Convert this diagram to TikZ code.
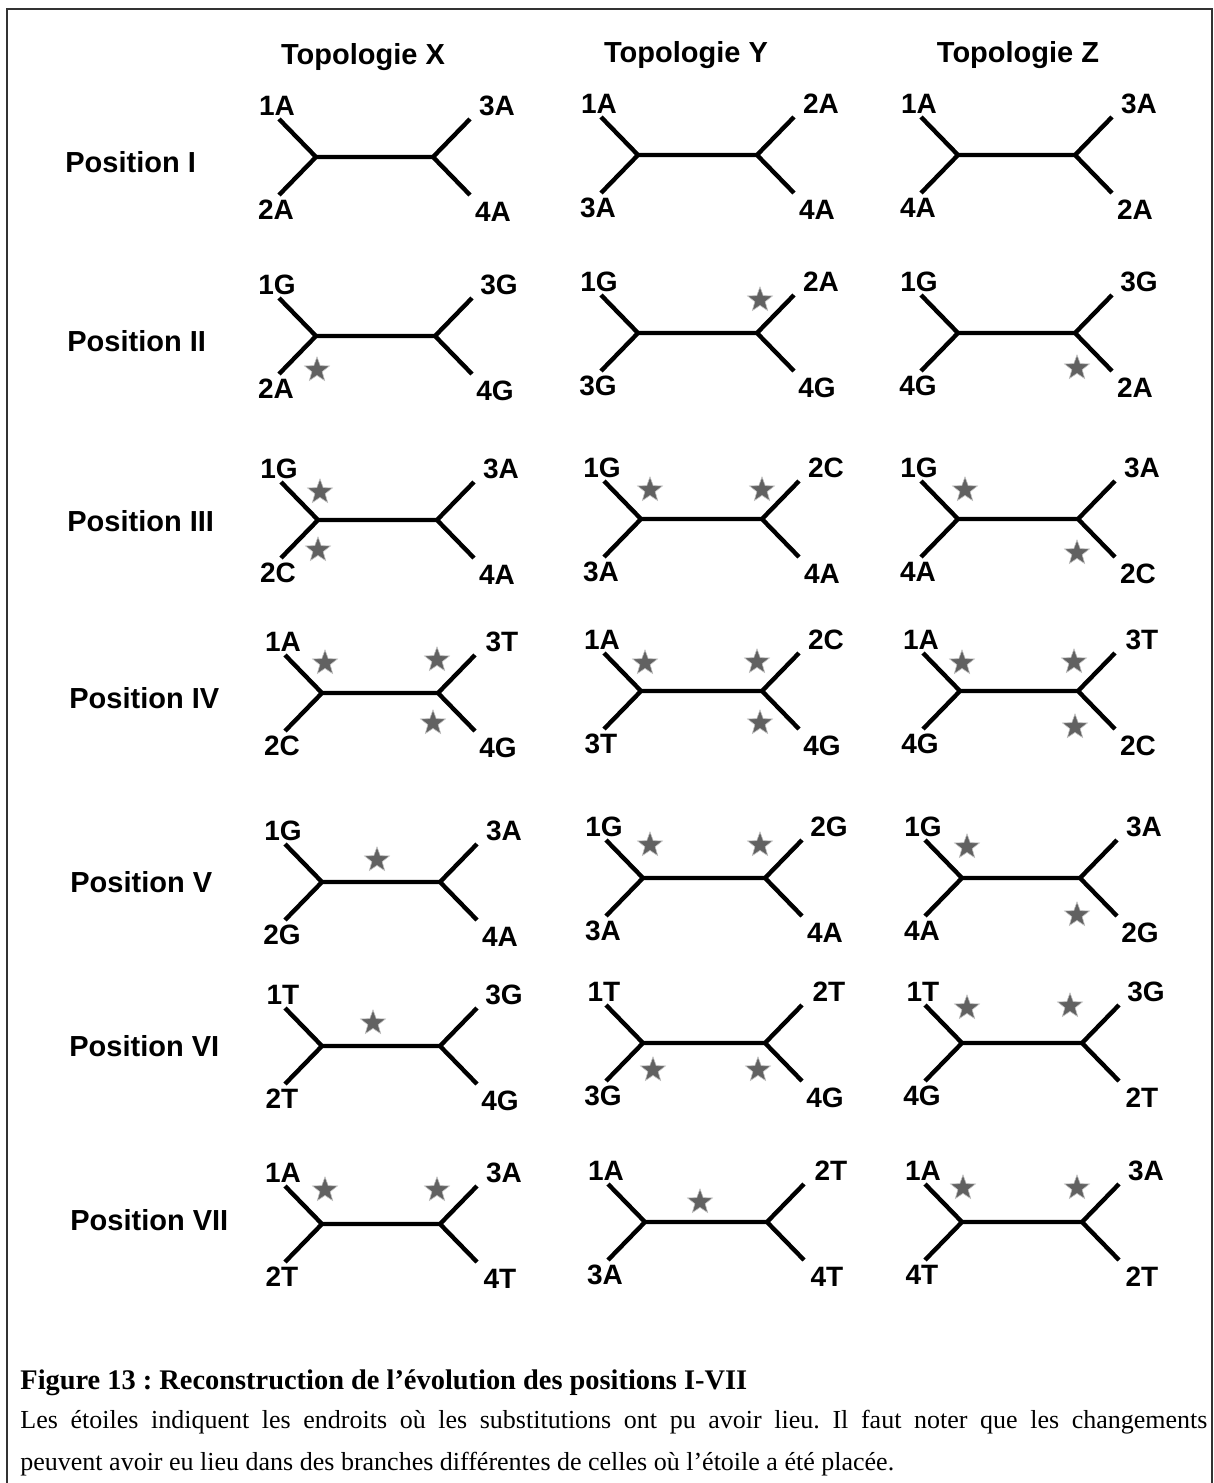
\documentclass[tikz,border=0pt]{standalone}
\usepackage{fontspec}
\setmainfont{Liberation Sans}
\newfontfamily\capfont{Liberation Serif}
\usetikzlibrary{shapes.geometric,calc}
\tikzset{
  br/.style={line width=2.2pt,line cap=butt,line join=miter},
  lab/.style={font=\fontsize{14}{14}\selectfont\bfseries,inner sep=0pt},
  hdr/.style={font=\fontsize{14.5}{14.5}\selectfont\bfseries,inner sep=0pt},
  rowlab/.style={font=\fontsize{14.5}{14.5}\selectfont\bfseries,inner sep=0pt,anchor=west},
  st/.style={star,star points=5,star point ratio=2.4,minimum size=13pt,inner sep=0pt,fill=black!62,draw=black!25,line width=0.3pt},
  frame/.style={line width=1pt,black!80}
}
\newcommand\mytree[8]{%
  \coordinate (#1l) at (#2,#4);
  \coordinate (#1r) at (#3,#4);
  \coordinate (#1a) at (#2-37,#4-38);
  \coordinate (#1b) at (#2-37,#4+38);
  \coordinate (#1c) at (#3+37,#4-38);
  \coordinate (#1d) at (#3+37,#4+38);
  \draw[br] (#1a) -- (#1l) -- (#1b) (#1l) -- (#1r) (#1c) -- (#1r) -- (#1d);
  \node[lab] (#1ul) at (#2-39,#4-51) {#5};
  \node[lab] (#1ll) at (#2-40,#4+53) {#6};
  \node[lab] (#1ur) at (#3+64,#4-51) {#7};
  \node[lab] (#1lr) at (#3+60,#4+55) {#8};
}
\begin{document}
\frenchspacing
\begin{tikzpicture}[x=0.5pt,y=-0.5pt]
\useasboundingbox (0,0) rectangle (1214,1483);
\fill[white] (0,0) rectangle (1214,1483);
% frame
\coordinate (f1) at (7,1483);
\coordinate (f2) at (7,9);
\coordinate (f3) at (1212,9);
\coordinate (f4) at (1212,1483);
\draw[frame] (f1) -- (f2) -- (f3) -- (f4);
% headers
\node[hdr] (hx) at (363,57) {Topologie X};
\node[hdr] (hy) at (686,55) {Topologie Y};
\node[hdr] (hz) at (1018,55) {Topologie Z};
% row labels
\node[rowlab] (p1) at (65,162) {Position I};
\node[rowlab] (p2) at (67,341) {Position II};
\node[rowlab] (p3) at (67,521) {Position III};
\node[rowlab] (p4) at (69,698) {Position IV};
\node[rowlab] (p5) at (70,882) {Position V};
\node[rowlab] (p6) at (69,1046) {Position VI};
\node[rowlab] (p7) at (70,1220) {Position VII};
% row I
\mytree{aX}{316}{433}{157}{1A}{2A}{3A}{4A}
\mytree{aY}{638}{757}{155}{1A}{3A}{2A}{4A}
\mytree{aZ}{958}{1075}{155}{1A}{4A}{3A}{2A}
% row II
\mytree{bX}{316}{435}{336}{1G}{2A}{3G}{4G}
\mytree{bY}{638}{757}{333}{1G}{3G}{2A}{4G}
\mytree{bZ}{958}{1075}{333}{1G}{4G}{3G}{2A}
% row III
\mytree{cX}{318}{437}{520}{1G}{2C}{3A}{4A}
\mytree{cY}{641}{762}{519}{1G}{3A}{2C}{4A}
\mytree{cZ}{958}{1078}{519}{1G}{4A}{3A}{2C}
% row IV
\mytree{dX}{322}{438}{693}{1A}{2C}{3T}{4G}
\mytree{dY}{641}{762}{691}{1A}{3T}{2C}{4G}
\mytree{dZ}{960}{1078}{691}{1A}{4G}{3T}{2C}
% row V
\mytree{eX}{322}{440}{882}{1G}{2G}{3A}{4A}
\mytree{eY}{643}{765}{878}{1G}{3A}{2G}{4A}
\mytree{eZ}{962}{1080}{878}{1G}{4A}{3A}{2G}
% row VI
\mytree{fX}{322}{440}{1046}{1T}{2T}{3G}{4G}
\mytree{fY}{643}{765}{1043}{1T}{3G}{2T}{4G}
\mytree{fZ}{962}{1082}{1043}{1T}{4G}{3G}{2T}
% row VII
\mytree{gX}{322}{440}{1224}{1A}{2T}{3A}{4T}
\mytree{gY}{645}{767}{1222}{1A}{3A}{2T}{4T}
\mytree{gZ}{962}{1082}{1222}{1A}{4T}{3A}{2T}
% stars
\node[st] (s1) at (317,370) {};
\node[st] (s2) at (760,300) {};
\node[st] (s3) at (1077,368) {};
\node[st] (s4) at (320,492) {};
\node[st] (s5) at (318,550) {};
\node[st] (s6) at (650,490) {};
\node[st] (s7) at (762,490) {};
\node[st] (s8) at (965,490) {};
\node[st] (s9) at (1077,553) {};
\node[st] (s10) at (325,663) {};
\node[st] (s11) at (437,660) {};
\node[st] (s12) at (433,723) {};
\node[st] (s13) at (645,663) {};
\node[st] (s14) at (757,662) {};
\node[st] (s15) at (760,723) {};
\node[st] (s16) at (962,663) {};
\node[st] (s17) at (1074,662) {};
\node[st] (s18) at (1075,727) {};
\node[st] (s19) at (377,860) {};
\node[st] (s20) at (650,845) {};
\node[st] (s21) at (760,845) {};
\node[st] (s22) at (967,847) {};
\node[st] (s23) at (1077,915) {};
\node[st] (s24) at (373,1023) {};
\node[st] (s25) at (653,1070) {};
\node[st] (s26) at (758,1070) {};
\node[st] (s27) at (967,1008) {};
\node[st] (s28) at (1070,1006) {};
\node[st] (s29) at (325,1190) {};
\node[st] (s30) at (437,1190) {};
\node[st] (s31) at (700,1202) {};
\node[st] (s32) at (963,1188) {};
\node[st] (s33) at (1077,1188) {};
% caption
\node[anchor=base west,inner sep=0pt,font=\capfont\bfseries\fontsize{14.2}{14.2}\selectfont] (cap) at (20,1389) {Figure 13 : Reconstruction de l’évolution des positions I-VII};
\node[anchor=base west,inner sep=0pt,font=\capfont\fontsize{13}{13}\selectfont] (l1) at (20,1428) {\makebox[593.5pt][s]{Les étoiles indiquent les endroits où les substitutions ont pu avoir lieu. Il faut noter que les changements}};
\node[anchor=base west,inner sep=0pt,font=\capfont\fontsize{13}{13}\selectfont] (l2) at (20,1470) {peuvent avoir eu lieu dans des branches différentes de celles où l’étoile a été placée.};
\end{tikzpicture}
\end{document}
